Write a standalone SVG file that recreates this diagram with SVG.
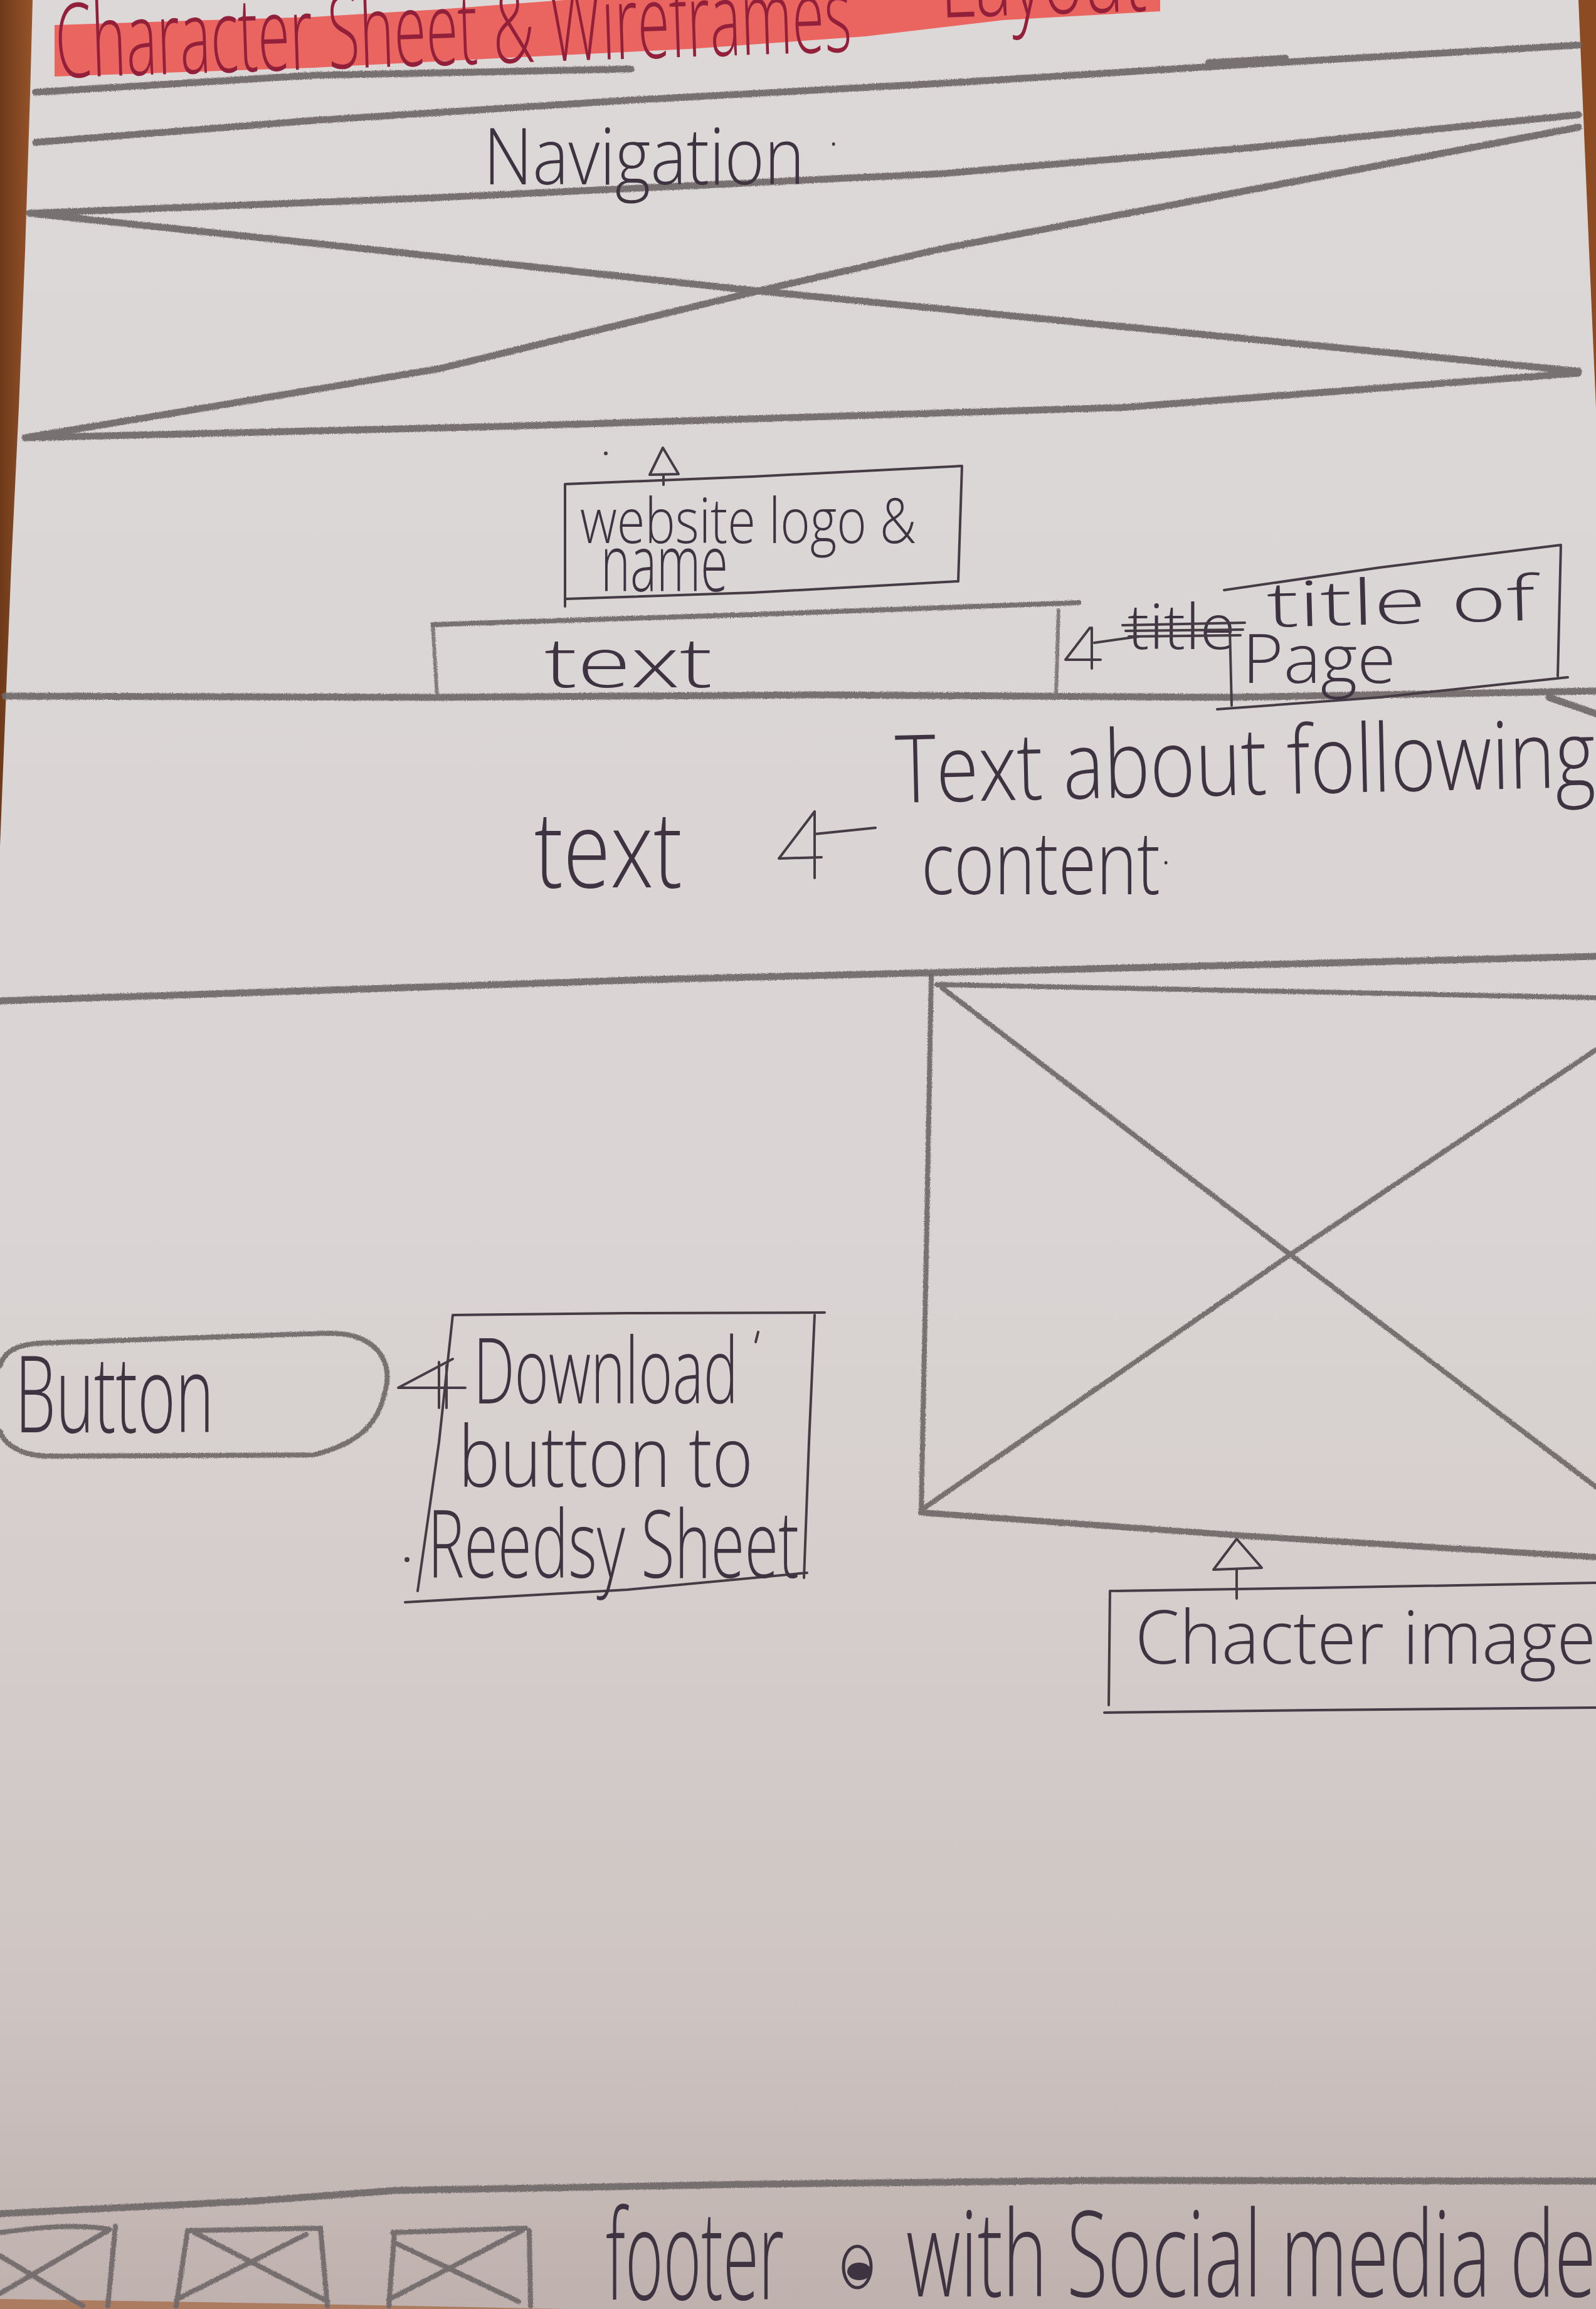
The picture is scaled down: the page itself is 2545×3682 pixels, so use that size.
<svg xmlns="http://www.w3.org/2000/svg" width="2545" height="3682" viewBox="0 0 2545 3682">
  <defs>
    <linearGradient id="paper" x1="0" y1="0" x2="0" y2="1">
      <stop offset="0" stop-color="#dbd8d7"/>
      <stop offset="0.55" stop-color="#d9d4d3"/>
      <stop offset="0.85" stop-color="#cfc6c4"/>
      <stop offset="1" stop-color="#bfb1ad"/>
    </linearGradient>
    <linearGradient id="wood" x1="0" y1="0" x2="1" y2="0">
      <stop offset="0" stop-color="#6e3a1a"/>
      <stop offset="1" stop-color="#96542a"/>
    </linearGradient>
    <filter id="graphite" filterUnits="userSpaceOnUse" x="0" y="0" width="2545" height="3682">
      <feTurbulence type="fractalNoise" baseFrequency="0.9" numOctaves="2" seed="3" result="grain"/>
      <feDisplacementMap in="SourceGraphic" in2="grain" scale="5" xChannelSelector="R" yChannelSelector="G"/>
    </filter>
    <style>
      .pencil{fill:none;stroke:#6f696b;stroke-linecap:round;stroke-linejoin:round;opacity:.92}
      .heavy{stroke-width:11}
      .mid{stroke-width:8}
      .thin{stroke-width:6;stroke:#7b7577}
      .pen{fill:none;stroke:#463c45;stroke-width:4;stroke-linecap:round;stroke-linejoin:round}
      .hand{font-family:"Open Sans","Liberation Sans",sans-serif;font-weight:300;fill:#3e3441}
      .red{fill:#92203a}
    </style>
  </defs>

  <!-- paper and table edges -->
  <rect x="0" y="0" width="2545" height="3682" fill="url(#paper)"/>
  <polygon points="0,0 52,0 48,150 40,400 30,650 18,900 8,1150 0,1350" fill="url(#wood)"/>
  <polygon points="2517,0 2545,0 2545,650 2534,400" fill="#8c4b23"/>
  <polygon points="0,3666 500,3674 900,3682 0,3682" fill="#a2653f" opacity="0.7"/>

  <!-- title -->
  <g id="title">
    <polygon points="87,40 300,33 500,27 700,15 900,0 1850,0 1850,18 1600,32 1380,58 1100,78 812,92 500,108 87,122" fill="#ea655f"/>
    <text class="hand red" x="90" y="124" font-size="165" textLength="1270" lengthAdjust="spacingAndGlyphs" transform="rotate(-1.9 90 124)">Character Sheet &amp; Wireframes</text>
    <text class="hand red" x="1500" y="28" font-size="165" textLength="330" lengthAdjust="spacingAndGlyphs" transform="rotate(-1.9 1500 28)">Layout</text>
  </g>

  <!-- ruled lines -->
  <g id="frame-lines" class="pencil" filter="url(#graphite)">
    <path class="heavy" d="M57,147 L500,120 L1006,110"/>
    <path class="heavy" d="M57,227 L500,192 L1000,160 L1500,133 L2000,102 L2517,72"/>
    <path class="heavy" d="M1927,100 L2050,93"/>
    <path class="heavy" d="M8,1110 L700,1112 L1300,1108 L1960,1112 L2545,1102"/>
    <path class="heavy" d="M2470,1112 L2545,1138"/>
    <path class="heavy" d="M0,1596 L1039,1562 L2545,1525"/>
    <path class="heavy" stroke-width="16" d="M0,3530 L402,3510 L631,3493 L1200,3483 L1753,3477 L2545,3478"/>
  </g>

  <!-- header image placeholder -->
  <g id="nav-image" class="pencil heavy" filter="url(#graphite)">
    <path d="M47,340 L700,315 L1500,277 L2000,235 L2517,183"/>
    <path d="M47,340 L500,388 L1209,464 L2517,592"/>
    <path d="M40,698 L700,588 L1209,464 L1500,397 L2517,203"/>
    <path d="M40,698 L800,680 L1786,650 L2517,595"/>
  </g>

  <g id="navigation">
    <text class="hand" x="771" y="294" font-size="125" textLength="512" lengthAdjust="spacingAndGlyphs">Navigation</text>
    <text class="hand" x="1322" y="232" font-size="60">.</text>
  </g>

  <!-- header: logo label -->
  <g id="logo-label">
    <circle cx="966" cy="723" r="3" fill="#463c45"/>
    <path class="pen" d="M901,967 L901,772 L1200,760 L1534,743 L1528,927 L1200,945 L903,955"/>
    <text class="hand" x="925" y="866" font-size="100" textLength="536" lengthAdjust="spacingAndGlyphs">website logo &amp;</text>
    <text class="hand" x="958" y="943" font-size="125" textLength="203" lengthAdjust="spacingAndGlyphs">name</text>
  </g>

  <!-- header: text block -->
  <g id="header-text">
    <g class="pencil" filter="url(#graphite)">
      <path class="thin" d="M690,996 L697,1110"/>
      <path class="mid" d="M690,996 L1200,980 L1720,961"/>
      <path class="thin" d="M1688,973 L1684,1110"/>
    </g>
    <text class="hand" x="868" y="1096" font-size="110" textLength="268" lengthAdjust="spacingAndGlyphs">text</text>
  </g>

  <!-- header: page title label -->
  <g id="page-title-label">
    <text class="hand" x="1798" y="1035" font-size="100" textLength="172" lengthAdjust="spacingAndGlyphs">title</text>
    <path class="pen" d="M1790,997 L1985,993 M1795,1006 L1982,1004 M1800,1015 L1978,1013"/>
    <path class="pen" d="M1952,941 L2200,905 L2489,869 L2484,1078 M1941,1131 L2200,1112 L2500,1080 M1961,1001 L1964,1125"/>
    <text class="hand" x="2021" y="1000" font-size="100" textLength="428" lengthAdjust="spacingAndGlyphs" transform="rotate(-1.5 2021 1000)">title of</text>
    <text class="hand" x="1981" y="1089" font-size="108" textLength="245" lengthAdjust="spacingAndGlyphs">Page</text>
  </g>

  <!-- intro text and its label -->
  <g id="intro-text">
    <text class="hand" x="852" y="1415" font-size="170" textLength="236" lengthAdjust="spacingAndGlyphs">text</text>
  </g>
  <g id="intro-label">
    <text class="hand" x="1429" y="1280" font-size="150" textLength="1116" lengthAdjust="spacingAndGlyphs" transform="rotate(-1.3 1429 1280)">Text about following</text>
    <text class="hand" x="1469" y="1426" font-size="140" textLength="381" lengthAdjust="spacingAndGlyphs">content</text>
    <text class="hand" x="1852" y="1378" font-size="60">.</text>
  </g>

  <!-- character image placeholder -->
  <g id="character-image" class="pencil mid" filter="url(#graphite)">
    <path d="M1485,1556 L1477,2000 L1469,2412"/>
    <path d="M1494,1570 L2000,1580 L2545,1591"/>
    <path d="M1502,1575 L2054,1998 L2545,2371"/>
    <path d="M1469,2408 L2054,2003 L2545,1674"/>
    <path stroke-width="10" d="M1469,2412 L2000,2450 L2545,2483"/>
  </g>

  <g id="character-label">
    <path class="pen" d="M1770,2537 L2100,2532 L2545,2524 M1770,2537 L1768,2719 M1761,2731 L2100,2727 L2545,2723"/>
    <text class="hand" x="1810" y="2653" font-size="118" textLength="735" lengthAdjust="spacingAndGlyphs">Chacter image</text>
  </g>

  <!-- download button -->
  <g id="button">
    <path class="pencil mid" filter="url(#graphite)" d="M0,2178 C8,2152 30,2145 60,2142 L520,2126 C600,2124 626,2170 615,2215 C604,2268 578,2300 500,2320 L80,2322 C32,2322 6,2302 0,2282"/>
    <text class="hand" x="24" y="2284" font-size="170" textLength="317" lengthAdjust="spacingAndGlyphs">Button</text>
  </g>

  <g id="download-label">
    <path class="pen" d="M722,2097 L1000,2094 L1315,2093 M1299,2097 L1290,2300 L1282,2516 M646,2555 L1000,2535 L1287,2508 M722,2097 L700,2300 L666,2537"/>
    <path class="pen" d="M1209,2124 L1205,2140"/>
    <circle cx="649" cy="2487" r="4" fill="#463c45"/>
    <text class="hand" x="755" y="2238" font-size="145" textLength="422" lengthAdjust="spacingAndGlyphs">Download</text>
    <text class="hand" x="731" y="2371" font-size="135" textLength="470" lengthAdjust="spacingAndGlyphs">button to</text>
    <text class="hand" x="682" y="2516" font-size="150" textLength="592" lengthAdjust="spacingAndGlyphs">Reedsy Sheet</text>
  </g>

  <!-- footer -->
  <g id="footer">
    <g class="pencil mid" filter="url(#graphite)">
      <path d="M0,3560 C60,3552 120,3546 175,3555 M184,3550 L172,3677 M172,3557 L0,3657 M0,3597 L132,3677"/>
      <path d="M299,3557 L281,3677 M511,3553 L522,3677 M299,3557 L511,3553 M310,3560 L522,3670 M488,3563 L281,3667"/>
      <path d="M629,3560 L620,3677 M844,3557 L846,3677 M626,3560 L838,3553 M631,3577 L827,3670 M832,3557 L620,3667"/>
    </g>
    <text class="hand" x="966" y="3667" font-size="200" textLength="284" lengthAdjust="spacingAndGlyphs">footer</text>
    <ellipse cx="1367" cy="3615" rx="22" ry="33" fill="none" stroke="#3e3441" stroke-width="5"/>
    <ellipse cx="1370" cy="3622" rx="19" ry="14" fill="#3e3441"/>
    <text class="hand" x="1445" y="3662" font-size="190" textLength="1100" lengthAdjust="spacingAndGlyphs">with Social media de</text>
  </g>

  <!-- annotation arrows -->
  <g id="connectors" class="pen">
    <path d="M1057,714 L1036,757 L1082,756 Z M1058,757 L1058,773"/>
    <path d="M1738,1001 L1699,1052 L1755,1052 M1741,1001 L1741,1066 M1745,1025 L1816,1015"/>
    <path d="M1299,1294 L1242,1369 L1310,1367 M1299,1294 L1299,1400 M1299,1330 L1396,1320"/>
    <path d="M1972,2454 L1935,2503 L2012,2500 Z M1972,2503 L1972,2549"/>
    <path d="M722,2167 L635,2213 L742,2213 M700,2172 L700,2245 M712,2178 L712,2245"/>
  </g>
</svg>
